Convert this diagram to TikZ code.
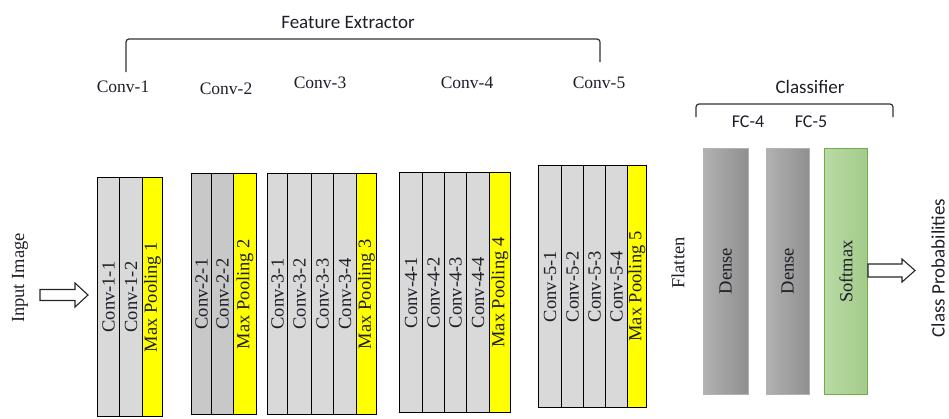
\documentclass[tikz,border=0pt]{standalone}
\usepackage{fontspec}
\setmainfont{Liberation Serif}
\newfontfamily\calib{Carlito}
\usetikzlibrary{calc}

\definecolor{convgray}{HTML}{D9D9D9}
\definecolor{convdark}{HTML}{C8C8C8}
\definecolor{poolyellow}{HTML}{FFFF00}
\definecolor{denseL}{HTML}{B2B2B2}
\definecolor{denseR}{HTML}{8F8F8F}
\definecolor{softL}{HTML}{B9DAA5}
\definecolor{softR}{HTML}{A3CB8A}
\definecolor{softB}{HTML}{70AD47}
\definecolor{inktext}{HTML}{1E1E28}

\tikzset{
  layer/.style={draw=black, line width=1.1pt, inner sep=0pt, anchor=north west,
    text=inktext, font=\fontsize{18.5}{20}\selectfont},
  conv/.style={layer, fill=convgray},
  convb/.style={layer, fill=convdark},
  pool/.style={layer, fill=poolyellow},
  dense/.style={inner sep=0pt, anchor=north west, left color=denseL, right color=denseR,
    draw=gray!60, line width=0.3pt, text=inktext, font=\fontsize{18.5}{20}\selectfont},
  soft/.style={inner sep=0pt, anchor=north west, left color=softL, right color=softR,
    draw=softB, line width=1pt, text=inktext, font=\fontsize{18.5}{20}\selectfont},
  stage/.style={text=inktext, font=\fontsize{17.5}{19}\selectfont, inner sep=0pt},
  group/.style={text=inktext, font=\calib\fontsize{19}{21}\selectfont, inner sep=0pt},
  bracket/.style={draw=black!80, line width=1.2pt, rounded corners=3pt},
  hollow/.style={draw=black!85, line width=1.1pt, fill=white, line join=miter},
}

% one column of a block: name, left x, top y, width, height, style, label
\newcommand\layercol[7]{%
  \node[#6, minimum width=#4pt, minimum height=#5pt] (#1) at (#2,#3) {\rotatebox{90}{#7}};}

\begin{document}
\begin{tikzpicture}[x=1pt, y=-1pt]
\useasboundingbox (0,0) rectangle (949,418);

% ---------- block 1
\layercol{c11}{97}{177}{22}{239}{conv}{Conv-1-1}
\layercol{c12}{119}{177}{23}{239}{conv}{Conv-1-2}
\layercol{p1}{142}{177}{20}{239}{pool}{Max Pooling 1}
% ---------- block 2
\layercol{c21}{191}{173}{20}{241}{convb}{Conv-2-1}
\layercol{c22}{211}{173}{22}{241}{convb}{Conv-2-2}
\layercol{p2}{233}{173}{23}{241}{pool}{Max Pooling 2}
% ---------- block 3
\layercol{c31}{267}{173}{20}{241}{conv}{Conv-3-1}
\layercol{c32}{287}{173}{24}{241}{conv}{Conv-3-2}
\layercol{c33}{311}{173}{22}{241}{conv}{Conv-3-3}
\layercol{c34}{333}{173}{23}{241}{conv}{Conv-3-4}
\layercol{p3}{356}{173}{20}{241}{pool}{Max Pooling 3}
% ---------- block 4
\layercol{c41}{399}{172}{23}{240}{conv}{Conv-4-1}
\layercol{c42}{422}{172}{22}{240}{conv}{Conv-4-2}
\layercol{c43}{444}{172}{22}{240}{conv}{Conv-4-3}
\layercol{c44}{466}{172}{23}{240}{conv}{Conv-4-4}
\layercol{p4}{489}{172}{21}{240}{pool}{Max Pooling 4}
% ---------- block 5
\layercol{c51}{538}{165}{23}{242}{conv}{Conv-5-1}
\layercol{c52}{561}{165}{22}{242}{conv}{Conv-5-2}
\layercol{c53}{583}{165}{22}{242}{conv}{Conv-5-3}
\layercol{c54}{605}{165}{22}{242}{conv}{Conv-5-4}
\layercol{p5}{627}{165}{19}{242}{pool}{Max Pooling 5}
% ---------- classifier
\layercol{fc4}{703}{148}{45}{246}{dense}{Dense}
\layercol{fc5}{766}{148}{43}{246}{dense}{Dense}
\layercol{sm}{824}{148}{43}{246}{soft}{Softmax}

% ---------- stage labels
\node[stage] (l1) at (123,87) {Conv-1};
\node[stage] (l2) at (226,89) {Conv-2};
\node[stage] (l3) at (320,83) {Conv-3};
\node[stage] (l4) at (467,83) {Conv-4};
\node[stage] (l5) at (599,83) {Conv-5};
\node[group] (fe) at (348,22) {Feature Extractor};
\node[group] (cl) at (810,87) {Classifier};
\node[group, font=\calib\fontsize{18}{20}\selectfont] (f4) at (748,122) {FC-4};
\node[group, font=\calib\fontsize{18}{20}\selectfont] (f5) at (811,122) {FC-5};

% ---------- side labels
\node[stage, font=\fontsize{18.5}{20}\selectfont, rotate=90] (inp) at (20,278) {Input Image};
\node[stage, font=\fontsize{18.5}{20}\selectfont, rotate=90] (fl) at (678,263) {Flatten};
\node[group, rotate=90] (out) at (938,268) {Class Probabilities};

% ---------- brackets
\coordinate (feL) at (126,72);
\coordinate (feR) at (600,62);
\draw[bracket] (feL) -- (126,39) -- (600,39) -- (feR);
\coordinate (clL) at (696,117);
\coordinate (clR) at (893,117);
\draw[bracket] (clL) -- (696,104) -- (893,104) -- (clR);

% ---------- hollow arrows
\draw[hollow] (40,289.5) -- (75,289.5) -- (75,283) -- (88,295) -- (75,307)
  -- (75,300.5) -- (40,300.5) -- cycle;
\draw[hollow] (868,264) -- (902,264) -- (902,259) -- (915,270.5) -- (902,282)
  -- (902,277) -- (868,277) -- cycle;
\end{tikzpicture}
\end{document}
